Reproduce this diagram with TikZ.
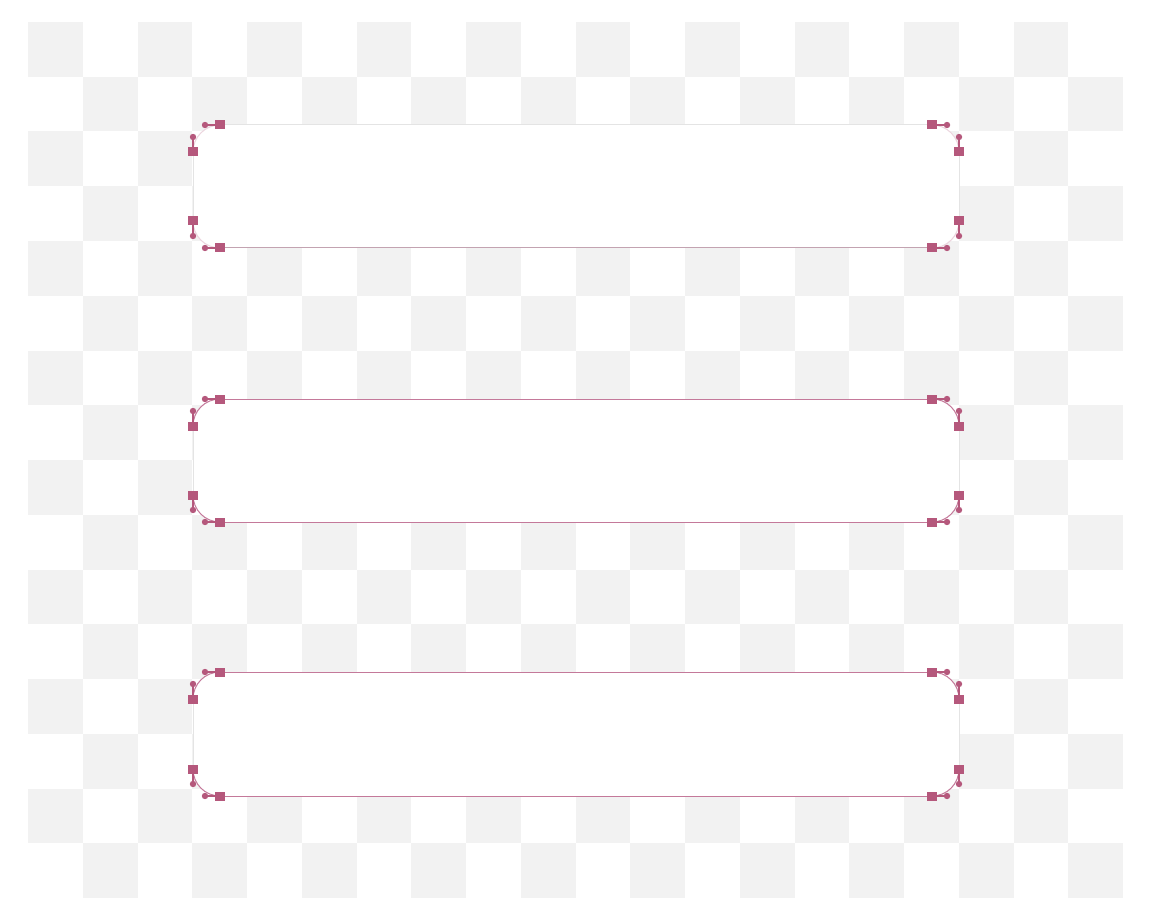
\documentclass[tikz,border=0pt]{standalone}
\definecolor{chk}{HTML}{F2F2F2}
\definecolor{hnd}{HTML}{B5587C}
\definecolor{edg}{HTML}{C4799A}
\definecolor{sidegray}{HTML}{E4E4E4}
\tikzset{
  handleline/.style={draw=hnd, line width=1.5pt},
  handlesq/.style={fill=hnd},
  handledot/.style={fill=hnd},
}
% #1 top, #2 bottom, #3 top edge colour, #4 bottom edge colour, #5 corner colour
\newcommand\myrbox[5]{%
  \fill[white] (220,#1) -- (932,#1) .. controls (947,#1) and (959,#1+12) .. (959,#1+27)
     -- (959,#2-27) .. controls (959,#2-12) and (947,#2) .. (932,#2)
     -- (220,#2) .. controls (205,#2) and (193,#2-12) .. (193,#2-27)
     -- (193,#1+27) .. controls (193,#1+12) and (205,#1) .. cycle;
  \draw[sidegray, line width=0.8pt] (193,#1+27) -- (193,#2-27) (959,#1+27) -- (959,#2-27);
  \draw[#3, line width=1pt] (220,#1) -- (932,#1);
  \draw[#4, line width=1pt] (220,#2) -- (932,#2);
  \draw[#5, line width=1pt]
     (932,#1) .. controls (947,#1) and (959,#1+12) .. (959,#1+27)
     (959,#2-27) .. controls (959,#2-12) and (947,#2) .. (932,#2)
     (220,#2) .. controls (205,#2) and (193,#2-12) .. (193,#2-27)
     (193,#1+27) .. controls (193,#1+12) and (205,#1) .. (220,#1);
  % handles
  \draw[handleline] (220,#1) -- (205,#1) (193,#1+27) -- (193,#1+12)
                    (932,#1) -- (947,#1) (959,#1+27) -- (959,#1+12)
                    (220,#2) -- (205,#2) (193,#2-27) -- (193,#2-12)
                    (932,#2) -- (947,#2) (959,#2-27) -- (959,#2-12);
  \foreach \hx/\hy in {205/#1, 193/#1+12, 947/#1, 959/#1+12, 205/#2, 193/#2-12, 947/#2, 959/#2-12}
     {\fill[handledot] (\hx,\hy) circle (3.2pt);}
  \foreach \hx/\hy in {220/#1, 193/#1+27, 932/#1, 959/#1+27, 220/#2, 193/#2-27, 932/#2, 959/#2-27}
     {\fill[handlesq] (\hx-5,\hy-4.5) rectangle (\hx+5,\hy+4.5);}
}
\begin{document}
\begin{tikzpicture}[x=1pt,y=-1pt]
\useasboundingbox (0,0) rectangle (1152,920);
\fill[white] (0,0) rectangle (1152,920);
\foreach \i in {0,...,19}{
  \foreach \j in {0,...,15}{
    \pgfmathtruncatemacro\myparity{mod(\i+\j,2)}
    \ifnum\myparity=0
      \fill[chk] (28+\i*54.75,22+\j*54.75) rectangle ++(54.75,54.75);
    \fi
  }
}
\myrbox{125}{248}{sidegray}{edg!60!gray!70}{hnd!25}
\myrbox{399}{522}{edg}{edg}{edg}
\myrbox{672}{796}{edg}{edg}{edg}
\end{tikzpicture}
\end{document}
